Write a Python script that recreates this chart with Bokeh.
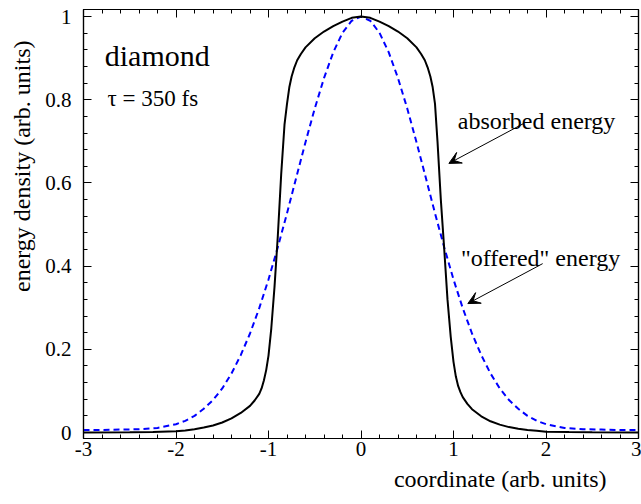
from bokeh.plotting import figure
from bokeh.models import (LinearAxis, FixedTicker, Range1d, Label, Arrow,
                          VeeHead, Title, ColumnDataSource)
from bokeh.embed import file_html
from bokeh.resources import INLINE

# ---- data ----
absorbed_x = [-3.0, -2.5, -2.25, -2.0, -1.9, -1.8, -1.7, -1.6, -1.5, -1.4, -1.3,
              -1.2, -1.15, -1.1, -1.075, -1.05, -1.025, -1.0, -0.97, -0.935,
              -0.9, -0.863, -0.827, -0.8, -0.775, -0.75, -0.72, -0.69, -0.65,
              -0.6, -0.5, -0.4, -0.3, -0.2, -0.1, 0.0, 0.1, 0.2, 0.3, 0.4, 0.5,
              0.6, 0.65, 0.69, 0.72, 0.75, 0.775, 0.8, 0.827, 0.863, 0.9, 0.935,
              0.97, 1.0, 1.025, 1.05, 1.075, 1.1, 1.15, 1.2, 1.3, 1.4, 1.5, 1.6,
              1.7, 1.8, 1.9, 2.0, 2.25, 2.5, 3.0]
absorbed_y = [0.0, 0.0005, 0.0015, 0.003, 0.005, 0.008, 0.012, 0.017, 0.024, 0.034,
              0.047, 0.064, 0.077, 0.093, 0.106, 0.125, 0.15, 0.185, 0.25, 0.35,
              0.47, 0.62, 0.74, 0.79, 0.83, 0.856, 0.878, 0.895, 0.91,
              0.926, 0.948, 0.964, 0.977, 0.988, 0.997, 1.0, 0.997, 0.988, 0.977,
              0.964, 0.948, 0.926, 0.91, 0.895, 0.878, 0.856, 0.83, 0.79, 0.70,
              0.56, 0.44, 0.32, 0.23, 0.17, 0.135, 0.112, 0.097, 0.085, 0.069,
              0.056, 0.039, 0.027, 0.019, 0.013, 0.009, 0.006, 0.004, 0.002,
              0.001, 0.0005, 0.0]

offered_x = [-3.0, -2.8, -2.6, -2.4, -2.2, -2.0, -1.9, -1.8, -1.7, -1.6, -1.5,
             -1.4, -1.3, -1.2, -1.1, -1.0, -0.9, -0.8, -0.7, -0.6, -0.5, -0.4,
             -0.3, -0.2, -0.1, 0.0, 0.1, 0.2, 0.3, 0.4, 0.5, 0.6, 0.7, 0.8, 0.9,
             1.0, 1.1, 1.2, 1.3, 1.4, 1.5, 1.6, 1.7, 1.8, 1.9, 2.0, 2.2, 2.4,
             2.6, 2.8, 3.0]
offered_y = [0.006, 0.006, 0.007, 0.008, 0.011, 0.020, 0.028, 0.040, 0.057, 0.078,
             0.106, 0.142, 0.186, 0.238, 0.299, 0.368, 0.445, 0.527, 0.613,
             0.698, 0.779, 0.852, 0.914, 0.961, 0.990, 1.0, 0.990, 0.961, 0.914,
             0.852, 0.779, 0.698, 0.613, 0.527, 0.445, 0.368, 0.299, 0.238,
             0.186, 0.142, 0.106, 0.078, 0.057, 0.040, 0.028, 0.020, 0.011,
             0.008, 0.007, 0.006, 0.006]

x_ticks = [-3, -2, -1, 0, 1, 2, 3]
x_tick_labels = ["-3", "-2", "-1", "0", "1", "2", "3"]
y_ticks = [0, 0.2, 0.4, 0.6, 0.8, 1]
y_tick_labels = ["0", "0.2", "0.4", "0.6", "0.8", "1"]

FONT = "Liberation Serif"

x_minor = [round(-3 + 0.2 * i, 3) for i in range(31)]
y_minor = [round(0.04 * i, 3) for i in range(26)]

p = figure(width=641, height=504, output_backend="svg", toolbar_location=None,
           x_range=Range1d(-3, 3), y_range=Range1d(-0.0144, 1.017),
           min_border_left=82, min_border_right=3, min_border_top=9,
           min_border_bottom=66)
p.xgrid.visible = False
p.ygrid.visible = False
p.outline_line_color = "black"
p.outline_line_width = 1.2
p.background_fill_color = "white"
p.border_fill_color = "white"


def style_axis(ax, show_labels=True):
    ax.axis_line_color = "black"
    ax.axis_line_width = 1.2
    ax.major_tick_in = 8
    ax.major_tick_out = 0
    ax.minor_tick_in = 4
    ax.minor_tick_out = 0
    ax.major_tick_line_color = "black"
    ax.minor_tick_line_color = "black"
    ax.major_tick_line_width = 1
    ax.minor_tick_line_width = 1
    ax.major_label_text_font = FONT
    if show_labels:
        ax.major_label_text_font_size = "21px"
        ax.major_label_text_color = "black"
    else:
        ax.major_label_text_font_size = "1px"
        ax.major_label_text_color = None
        ax.major_label_text_alpha = 0
        ax.major_label_standoff = 0


xa = p.xaxis[0]
ya = p.yaxis[0]
xa.ticker = FixedTicker(ticks=x_ticks, minor_ticks=x_minor)
ya.ticker = FixedTicker(ticks=y_ticks, minor_ticks=y_minor)
style_axis(xa)
style_axis(ya)
xa.major_label_standoff = 3
ya.major_label_standoff = 12
xa.major_label_overrides = {t: l for t, l in zip(x_ticks, x_tick_labels)}
ya.major_label_overrides = {t: l for t, l in zip(y_ticks, y_tick_labels)}

top_ax = LinearAxis(ticker=FixedTicker(ticks=x_ticks, minor_ticks=x_minor))
right_ax = LinearAxis(ticker=FixedTicker(ticks=y_ticks, minor_ticks=y_minor))
style_axis(top_ax, False)
style_axis(right_ax, False)
p.add_layout(top_ax, "above")
p.add_layout(right_ax, "right")

# y-axis title, placed toward the top like the reference
ylabel = Title(text="energy density (arb. units)", align="right", offset=31,
               vertical_align="middle",
               text_font=FONT, text_font_size="24px", text_font_style="normal",
               text_color="black", standoff=14)
p.add_layout(ylabel, "left")

# x-axis title, right-aligned below the axis
xlabel = Title(text="coordinate (arb. units)", align="right", offset=32,
               text_font=FONT, text_font_size="24px", text_font_style="normal",
               text_color="black", standoff=10)
p.add_layout(xlabel, "below")

src_abs = ColumnDataSource(dict(x=absorbed_x, y=absorbed_y))
src_off = ColumnDataSource(dict(x=offered_x, y=offered_y))
p.line("x", "y", source=src_off, line_color="#0000ff", line_width=2,
       line_dash="6 4")
p.line("x", "y", source=src_abs, line_color="black", line_width=2)

p.add_layout(Label(x=-2.77, y=0.906, text="diamond", text_font=FONT,
                   text_font_size="30px", text_baseline="alphabetic",
                   text_color="black"))
p.add_layout(Label(x=-2.74, y=0.803, text="τ = 350 fs", text_font=FONT,
                   text_font_size="23px", text_baseline="alphabetic",
                   text_color="black"))
p.add_layout(Label(x=1.047, y=0.75, text="absorbed energy", text_font=FONT,
                   text_font_size="24px", text_baseline="alphabetic",
                   text_color="black"))
p.add_layout(Label(x=1.08, y=0.42, text='"offered" energy', text_font=FONT,
                   text_font_size="24px", text_baseline="alphabetic",
                   text_color="black"))

p.add_layout(Arrow(end=VeeHead(size=12, fill_color="black", line_color="black"),
                   x_start=1.759, y_start=0.743, x_end=0.95, y_end=0.647,
                   line_width=1, line_color="black"))
p.add_layout(Arrow(end=VeeHead(size=12, fill_color="black", line_color="black"),
                   x_start=1.964, y_start=0.406, x_end=1.155, y_end=0.31,
                   line_width=1, line_color="black"))

open("out.html", "w").write(file_html(p, INLINE))
